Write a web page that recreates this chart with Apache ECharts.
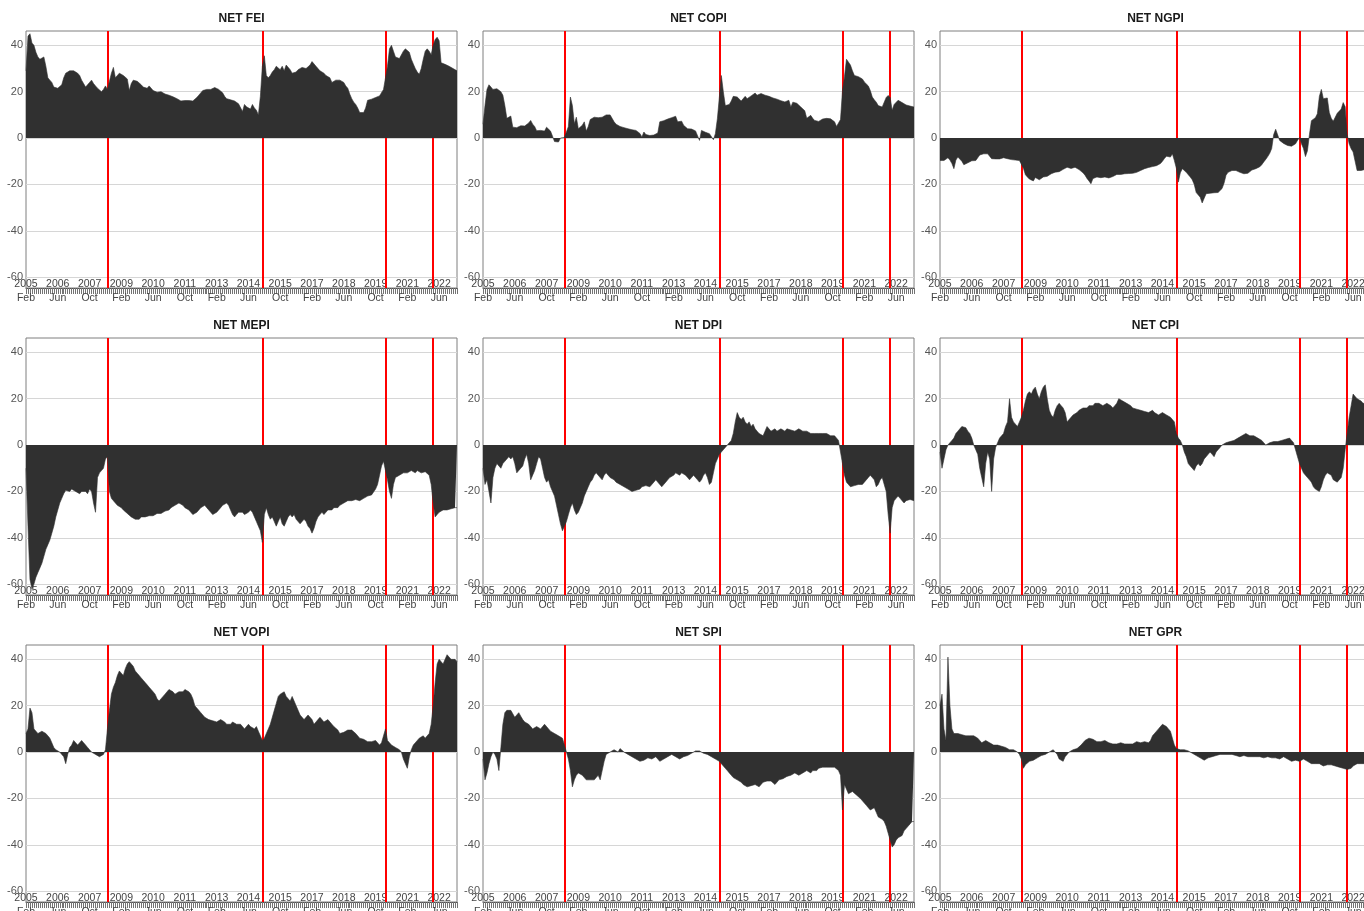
<!DOCTYPE html>
<html>
<head>
<meta charset="utf-8">
<title>Net spillover indices</title>
<script src="https://cdn.jsdelivr.net/npm/echarts@6/dist/echarts.min.js"></script>
<style>
  html, body { margin: 0; padding: 0; background: #ffffff; }
  #chart { width: 1364px; height: 911px; }
</style>
</head>
<body>
<div id="chart"></div>
<script>
// ---- time axis: monthly observations, Feb 2005 onward ----
const startYear = 2005;
const startMonth = 2;
const monthCount = 218;
const monthNames = ['Jan', 'Feb', 'Mar', 'Apr', 'May', 'Jun', 'Jul', 'Aug', 'Sep', 'Oct', 'Nov', 'Dec'];
const months = [];
for (let k = 0; k < monthCount; k++) {
  const m = startMonth - 1 + k;
  months.push(String(startYear + Math.floor(m / 12)) + '-' + String(m % 12 + 1).padStart(2, '0'));
}

// event dates marked by vertical red lines
const eventMonths = ['2008-07', '2015-01', '2020-03', '2022-03'];

// y-axis tick labels
const yTicks = [-60, -40, -20, 0, 20, 40];

const panelTitles = ['NET FEI', 'NET COPI', 'NET NGPI', 'NET MEPI', 'NET DPI', 'NET CPI', 'NET VOPI', 'NET SPI', 'NET GPR'];

// ---- net connectedness series ----
const fei = [
  29, 44, 45, 41, 40, 37, 35, 34, 34, 35,
  31, 26, 25, 24, 22, 21.5, 21.5, 21.5, 23, 26,
  28, 28.5, 29, 28.5, 29, 29.5, 28, 27, 25, 23.5,
  22, 22.5, 24, 25, 23.5, 22.5, 21.5, 21, 20, 21,
  22.5, 21, 21, 28, 30.5, 26, 25.5, 28, 28.5, 27,
  27.5, 25.5, 20.5, 23.5, 25, 25.5, 24.5, 24, 23, 22,
  21.5, 21.5, 22.5, 22, 20.5, 20, 19.8, 20.5, 20, 19.3,
  19, 18.7, 18.5, 18.3, 17.8, 17.3, 17, 16.5, 16, 15.6,
  16.2, 16.3, 16.2, 16.3, 16, 16.4, 17.5, 18.5, 18, 20.5,
  20.8, 21, 20.5, 21, 21.5, 21.8, 21.5, 21, 20.5, 19.5,
  18, 17, 16.8, 16.5, 16.3, 16, 15.5, 14.8, 14, 11.5,
  14.5, 13.5, 13, 12.5, 14.5, 13, 12, 10, 18, 31,
  35.5, 27, 26, 27, 28.5, 29.5, 31, 31.5, 29.5, 31,
  29, 31.5, 31, 29.5, 28, 27.5, 28.5, 29.5, 30, 30.5,
  30, 30, 30.5, 31.5, 33, 33.5, 31, 30, 29, 28.5,
  28, 27, 26.5, 26, 24, 23.5, 25, 25.2, 25, 24.5,
  24, 22.5, 21.5, 19, 17, 15.5, 14.5, 13, 11, 10.8,
  11, 13, 16.3, 16.5, 16.8, 17, 17.5, 17.8, 18.2, 17.8,
  21, 26, 31, 38.5, 40, 37.5, 35, 34.5, 34.3, 35,
  37.5, 38.5, 38.3, 37, 34, 32, 30, 28.5, 27.5, 30,
  34, 37.5, 38.5, 37.5, 36, 40, 42.5, 43.5, 42, 32.5,
  32, 31.8, 31.5, 31, 30.5, 30, 29.3, 29
];

const copi = [
  6, 14, 21, 23, 22, 21, 21.7, 21.3, 20.5, 20,
  18.5, 14, 8.5, 9, 9.5, 4.7, 4.5, 4.5, 4.8, 5.3,
  5, 5.2, 5.8, 6.5, 7.6, 6, 5, 3.2, 2.6, 3.3,
  3, 3, 4.7, 5, 3, 0.8, -1.5, -1.8, -1.7, 0,
  0.4, 0.2, 0.5, 5, 17.7, 14, 6.2, 9, 4, 4.7,
  5.5, 7, 3, 5, 8, 8.8, 9, 9, 8.8, 8.9,
  9, 9.5, 10, 10.5, 10, 8.5, 7, 6, 5.3, 5,
  4.7, 4.5, 4.2, 4, 3.8, 3.6, 3.6, 3.3, 3, 2,
  0.5, 2.6, 1.5, 1, 1.1, 1.2, 1.3, 1.9, 2.2, 7,
  7, 7.5, 7.9, 8.2, 8.4, 8.8, 9, 9.4, 7, 7.2,
  7.3, 5.5, 4.7, 4, 4, 3.9, 3.5, 3.1, 2.6, -1,
  3.3, 3, 2.5, 1.9, 1.9, 1.5, -0.7, 1.9, 8.3, 17.7,
  27, 20, 14, 14, 14.5, 16, 18, 18.7, 17.7, 17.3,
  16, 16.5, 18, 17, 17.7, 18.2, 18.8, 19.4, 18.5, 19.1,
  19.2, 19.4, 18.5, 17.8, 18, 18.2, 17.3, 17, 16.8, 16.3,
  16.1, 16, 15.6, 15.5, 16.3, 13.4, 15.5, 16, 15, 14.5,
  13.4, 12.8, 11.8, 8.5, 7.8, 9.8, 8.5, 7.6, 7.1, 7.2,
  7.6, 8.2, 9, 8.5, 8.3, 8.3, 8, 7, 5, 4.7,
  8, 20.6, 26.5, 34, 33.5, 31.5, 29, 27, 27.8, 26.5,
  26, 25.5, 24.2, 23.8, 22.5, 20.5, 17.7, 16.5, 15.5, 14,
  13.6, 13.4, 15.5, 17.5, 18.4, 17.5, 12, 14.5, 15, 16.3,
  15.8, 15.3, 14.8, 14.3, 14, 13.8, 13.6, 13.4
];

const ngpi = [
  -9.7, -9, -9.7, -9, -8.5, -9.5, -11, -13.2, -9.5, -8.2,
  -8.7, -10, -11.5, -11, -10.7, -10.3, -9.8, -9.7, -9.7, -8.5,
  -7.3, -6.9, -6.8, -6.8, -6.8, -7.5, -8.9, -8.9, -9, -9.3,
  -9, -8.5, -8.5, -8.7, -8.9, -9.1, -9.3, -9.3, -9.5, -9.7,
  -9.7, -10, -13, -15.8, -16.8, -17.7, -18.5, -18.5, -17, -17,
  -18, -17.3, -16.8, -17, -16.5, -16, -15.4, -15, -14.7, -14.7,
  -14.5, -14, -13.5, -13.1, -12.6, -12.8, -13.1, -12.7, -12.6, -13,
  -13.6, -14, -15, -16, -17.4, -18.5, -19.7, -17.5, -16.8, -16.8,
  -16.9, -17.1, -16.9, -16.8, -17, -17.2, -17.6, -16.6, -16, -15.7,
  -15.7, -15.7, -15.5, -15.4, -15.7, -15.3, -15.1, -15.2, -15.3, -14.8,
  -14.5, -14, -13.6, -13.2, -12.9, -12.7, -12.5, -12.3, -12.2, -11.9,
  -11.6, -11, -10, -8.8, -7.8, -7.8, -8.2, -6.8, -9.7, -13,
  -19, -15, -13.2, -14, -14.8, -15.8, -16.8, -18, -20, -23.5,
  -24, -25.5, -28, -26, -24, -24, -23.8, -23.3, -23.6, -24,
  -23.5, -23.3, -21.8, -19.5, -16.1, -14.8, -14, -14, -14, -14,
  -14.4, -14.8, -15.2, -15.4, -15.4, -15.2, -15, -13.8, -13.2, -13.2,
  -12.8, -12.4, -11.5, -10.3, -9.2, -8, -6.6, -4.5, 1.5, 3.8,
  3.3, -1, -1.8, -2.3, -2.7, -3.2, -3.2, -3.5, -3.9, -2.5,
  -1, 0.2, -2.5, -4.5, -8, -5.5, 1.5, 7.5, 8.3, 8.8,
  10.5, 18, 21, 17, 16.8, 17.3, 11, 8.5, 7.3, 9,
  10.7, 11.2, 12.5, 15.3, 13.5, 1.5, -2.5, -4.6, -6, -10,
  -14, -14, -14, -14, -13.5, -13, -13, -13
];

const mepi = [
  -10, -35, -58, -62, -60, -57, -55, -53, -51, -48,
  -45, -43, -41, -38, -35, -31, -28, -25, -23, -21,
  -19.5, -19, -20, -19, -19.5, -20, -19.5, -21, -20, -19.5,
  -20, -21, -19, -20, -25, -29, -14, -12, -11, -10,
  -6, -5, -20, -23, -24, -25, -26, -26.5, -27, -28,
  -28.5, -29.5, -30, -31, -31.5, -32, -31.5, -32, -31, -31.5,
  -31, -31, -30.5, -30, -30.5, -30, -29.5, -30, -29.5, -29,
  -28.5, -28, -28, -27, -26.5, -26, -25.5, -25, -25.5, -26,
  -27, -27.5, -28, -29, -30, -30.5, -29, -28, -27, -26.5,
  -26, -27, -28, -29, -30, -30, -29, -28, -27, -26,
  -25.5, -25, -26, -28, -30, -31, -30, -29, -28.5, -29,
  -30, -29.5, -29, -28, -29, -31, -33, -35, -37, -42,
  -30, -27, -30, -32, -31, -33, -35, -33, -31, -34,
  -35, -33, -31, -30, -31, -30, -32, -33, -34, -33,
  -32, -33, -35, -36, -38, -36, -33, -31, -30, -29,
  -30, -29, -28, -27.5, -28, -27, -26.5, -27, -26, -25.5,
  -25, -24.5, -24, -24.5, -24, -24, -23.5, -24, -24, -23.5,
  -23, -22.5, -22, -22, -21.5, -21, -19, -17, -13, -9,
  -7, -11, -15, -20, -23, -17, -14, -13.5, -13, -12.5,
  -12, -11.5, -12, -11.5, -11, -11.5, -12, -11, -11.5, -12,
  -12, -11.5, -12, -13, -17, -25, -31, -30, -29, -28.5,
  -28, -27.5, -28, -27.5, -27.5, -27, -27, -27
];

const dpi = [
  -10, -17, -15, -20, -25, -14, -10, -8, -9, -10,
  -8, -7, -6, -5, -6, -5, -8, -12, -11, -10,
  -9, -6, -4, -8, -15, -13, -11, -8, -5, -6,
  -10, -14, -16, -15, -18, -20, -22, -26, -30, -34,
  -37, -35, -33, -30, -27, -25, -28, -30, -29, -27,
  -25, -22, -20, -18, -16, -15, -13, -12, -13, -14,
  -15, -13, -12, -13, -14, -14, -15, -16, -16.5, -17,
  -17, -18, -18.5, -19, -19.5, -20, -20, -19.5, -20, -19,
  -18, -18, -17.5, -17, -18, -17, -16, -15, -15.5, -17,
  -18, -17, -16, -15, -14, -14.5, -13, -12, -12.5, -13,
  -12, -12.5, -13, -14, -15, -14, -13, -14, -15, -16,
  -15, -13, -12, -14, -17, -16, -12, -8, -6, -4,
  -3, -2, -1, 0, 0.5, 2, 5, 10, 14, 12,
  11, 12, 10, 9, 10, 8, 9, 7, 6, 5,
  5, 4, 6, 8, 7, 6, 6.5, 7, 6, 6.5,
  7, 6.5, 6, 7, 7.5, 6.5, 7, 6, 6.5, 7,
  6.5, 6, 6.5, 6, 5.5, 5, 5.5, 5, 4.5, 5,
  4.5, 5, 5.5, 5, 4.5, 4, 3.5, 4, 4, 2,
  -3, -8, -13, -16, -17, -18, -18.5, -17.5, -18, -17,
  -16.5, -17, -16, -15.5, -14, -13, -14, -15, -18, -17,
  -15, -14, -13.5, -20, -30, -38, -27, -24, -23, -22,
  -23, -24, -25, -24, -24, -23.5, -24, -24
];

const cpi = [
  -3, -10, -6, -2, 0, 1, 2, 3, 5, 6,
  7, 8, 8, 7.5, 6, 5, 3, 0, -2, -4,
  -10, -14, -18, -8, -3, -6, -20, -6, -1, 1,
  3, 4, 5, 8, 10, 20, 12, 10, 9, 8,
  10, 12, 15, 19, 22, 23, 22, 24, 25, 22,
  20, 23, 25, 26, 20, 15, 13, 12, 15, 17,
  18, 17, 16, 14, 10, 11, 12, 13, 13, 14,
  15, 15.5, 16, 16.5, 16, 17, 17.5, 17, 18, 17.5,
  18, 17.5, 17, 17.5, 18, 18, 17, 16, 17, 18,
  20, 19.5, 19, 18.5, 18, 18, 17, 16, 15.5, 15.5,
  15, 15, 15, 14.5, 14.5, 14, 14.5, 15, 14, 13.5,
  13, 13.5, 14, 13.5, 13, 13, 12, 11, 10, 5,
  3, 2, 0, -3, -5, -8, -9, -10, -11, -9,
  -8, -9, -8, -6, -5, -4, -3, -4, -5, -3,
  -2, -1, 0, 0.5, 1, 1, 1.5, 2, 2, 2.5,
  3, 3.5, 4, 4.5, 5, 4.5, 4, 4, 4, 3.5,
  3, 2.5, 2, 1, 0, 0.5, 1, 1, 1.5, 1.5,
  1.5, 2, 2, 2, 2.5, 3, 3, 2, 1, -2,
  -5, -8, -10, -12, -13, -14, -15, -16, -18, -19,
  -19.5, -20, -18, -15, -13, -12, -12, -13, -15, -15.5,
  -16, -16, -14, -10, -2, 5, 12, 17, 22, 21,
  20, 20, 19, 18, 18, 18, 17.5, 17.5
];

const vopi = [
  8, 10, 19, 17, 10, 9, 8, 8.5, 9, 9,
  8, 7, 6, 4, 2, 1, 0.5, 0, -1, -2,
  -5, -1, 2, 3, 5, 4, 3, 4, 5, 4,
  3, 2, 1, 0, 0, -1, -1, -2, -1.5, -1,
  1, 10, 18, 25, 28, 30, 33, 35, 34, 33,
  36, 38, 39, 39, 37, 35, 34, 33, 32, 31,
  30, 29, 28, 27, 26, 25, 23, 22, 23, 24,
  25, 26, 27, 26.5, 26, 25, 25.5, 26, 26.5, 26,
  27, 26.5, 26, 25, 23, 20, 19, 18, 17, 16,
  15, 14.5, 14, 14, 13.5, 13, 13, 13.5, 14, 13.5,
  13, 12, 12.5, 12, 13, 13, 12, 11.5, 12, 11,
  10, 11, 12, 11, 10.5, 10, 11, 9, 7, 5,
  6, 8, 10, 12, 15, 18, 21, 24, 25, 25.5,
  26, 24, 23, 22, 24, 22, 20, 18, 16, 15,
  14, 15, 16, 16, 14, 12, 13, 14, 15, 14,
  13, 13.5, 14, 14, 12, 11, 11, 9.5, 8, 8.5,
  8.5, 9, 9.5, 10, 9.5, 9, 8, 7.5, 6, 5.5,
  5.5, 5, 4.5, 4, 4.5, 5, 5, 4, 3, 4,
  7, 10, 5, 4, 3, 2.5, 2, 1.5, 1, 0,
  -3, -5, -7, -2, 1, 3, 4, 5, 6, 6.5,
  7, 6, 7, 8, 12, 20, 30, 38, 40, 39,
  38, 40, 42, 41, 40, 40, 40, 39
];

const spi = [
  -3, -12, -9, -5, -2, 0, -1, -3, -8, 2,
  12, 17, 18, 17.5, 18, 16.5, 15, 16, 17, 15.5,
  14, 13, 12.5, 12, 11, 10, 10.5, 11, 10.5, 10,
  11, 12, 11, 10, 9, 8.5, 8, 7.5, 7, 6.5,
  6, 3, 0, -3, -8, -15, -12, -10, -9, -9.5,
  -10, -11, -12, -12.5, -12, -11.5, -12, -11, -10, -12,
  -12, -4, -1, -0.5, 0, 0, 1, 1, 0, 1.5,
  2, 0, -0.5, -1, -1.5, -2, -2.5, -3, -3.5, -4,
  -4, -3.5, -3, -2.5, -3, -3, -2.5, -2, -3, -4,
  -3.5, -3, -2.5, -2, -1.5, -1, -1.5, -2, -2.5, -3,
  -2.5, -2, -2, -1.5, -1, -0.5, 0, 0.5, 1, 0.5,
  0, -0.5, -1, -1, -1.5, -2, -2.5, -3, -3.5, -4,
  -5, -6, -7, -8, -9, -10, -11, -11.5, -12, -12.5,
  -13, -14, -14.5, -15, -15, -14.5, -15, -14, -14.5, -15,
  -14, -13, -13.5, -12.5, -12, -12.5, -13, -14, -13, -12,
  -12, -11.5, -11, -10.5, -10, -10, -9.5, -9, -9.5, -10,
  -10, -9, -8.5, -8, -8.5, -9, -8, -7.5, -8, -7,
  -7, -6.5, -6, -6.5, -7, -6.5, -6, -6.5, -7, -8,
  -10, -25, -14, -16, -18, -18, -17, -17.5, -18.5, -19,
  -20, -21, -22, -23, -24, -25, -25.5, -24, -26, -28,
  -28, -29, -30, -32, -35, -38, -41, -40, -38, -37,
  -37, -36, -34, -33, -32, -31, -30, -30
];

const gpr = [
  20, 25, 10, 5, 41, 20, 10, 8, 7.5, 8,
  8, 7.5, 7, 7, 7, 7, 7, 7, 6.5, 6,
  5, 4, 4.5, 5, 4.5, 4, 3.5, 3, 3, 3,
  3, 2.5, 2.5, 2, 1.5, 1, 1, 1, 1, 0,
  -1, -3, -7, -5.5, -5, -4, -3.5, -3.5, -3, -2.5,
  -2, -1.5, -1.5, -1, -0.5, 0, 0.5, 1, 1, -1,
  -3, -3.5, -4, -2, -1, 0, 0.5, 1, 1, 1.5,
  2, 3, 4, 5, 5.5, 6, 6, 5.5, 5, 4.5,
  4, 4.5, 5, 5, 4.5, 4, 4, 3.5, 4, 3.5,
  3.5, 4, 4, 3.5, 3, 3.5, 4, 3.5, 4, 4.5,
  4.5, 4, 4, 4.5, 4, 4, 5, 7, 8, 9,
  10, 11, 12, 12, 11, 10, 9, 6, 3, 1.5,
  1, 1, 1.5, 1, 1, 0.5, 0, -0.5, -1, -1.5,
  -2, -2.5, -3, -3.5, -3, -2.5, -2, -2, -1.5, -1.5,
  -1.5, -1, -1.5, -1, -1, -1, -1.5, -1, -1.5, -1.5,
  -1.5, -2, -1.5, -1.5, -2, -2, -1.5, -2, -2, -2,
  -2.5, -2, -2, -2.5, -2, -2, -2.5, -2.5, -2, -2.5,
  -2.5, -3, -2.5, -2, -2.5, -3, -3.5, -4, -4, -3.5,
  -4, -4, -3.5, -3, -3.5, -4, -4.5, -5, -5, -5,
  -5.5, -5, -5.5, -6, -6, -5.5, -5, -5.5, -6, -6,
  -6, -6.5, -6.5, -7, -7, -7.5, -8, -7, -6, -5.5,
  -5, -5, -5, -5, -5, -5, -5, -5
];

const panelSeries = [fei, copi, ngpi, mepi, dpi, cpi, vopi, spi, gpr];

// ---- layout of the 3 x 3 panel grid ----
const colLeft = [26, 483, 940];
const rowTop = [31, 338, 645];
const plotWidth = 431;
const plotHeight = 257;
const fontFamily = '"Liberation Sans", Arial, Helvetica, sans-serif';

const grids = [], xAxes = [], yAxes = [], series = [], graphics = [];

panelSeries.forEach((values, k) => {
  const left = colLeft[k % 3];
  const top = rowTop[Math.floor(k / 3)];

  grids.push({
    left: left, top: top, width: plotWidth, height: plotHeight,
    outerBoundsMode: 'none', containLabel: false,
    show: true, borderColor: '#7f7f7f', borderWidth: 1, backgroundColor: 'transparent'
  });

  // year row sitting on the axis line, with dense monthly ticks below it
  xAxes.push({
    gridIndex: k, type: 'category', data: months, boundaryGap: false, position: 'bottom',
    axisLine: { show: true, onZero: false, lineStyle: { color: '#555555', width: 1 } },
    axisTick: { show: true, interval: 0, length: 6, lineStyle: { color: '#737373', width: 1 } },
    axisLabel: {
      inside: true, interval: 15, margin: -2,
      fontSize: 10.5, color: '#444444', fontFamily: fontFamily,
      formatter: v => v.slice(0, 4)
    },
    splitLine: { show: false }
  });
  // month row below the ticks
  xAxes.push({
    gridIndex: k, type: 'category', data: months, boundaryGap: false, position: 'bottom',
    axisLine: { show: false, onZero: false }, axisTick: { show: false },
    axisLabel: {
      interval: 15, margin: 5,
      fontSize: 10.5, color: '#444444', fontFamily: fontFamily,
      formatter: v => monthNames[Number(v.slice(5)) - 1]
    },
    splitLine: { show: false }
  });

  yAxes.push({
    gridIndex: k, type: 'value', min: -64.7, max: 46.2,
    axisLine: { show: false },
    axisTick: { show: false, customValues: yTicks },
    axisLabel: { customValues: yTicks, margin: 3, fontSize: 11, color: '#555555', fontFamily: fontFamily },
    splitLine: { show: true, lineStyle: { color: '#d6d6d6', width: 1 } }
  });

  // event markers, kept beneath the filled area
  series.push({
    type: 'line', xAxisIndex: 2 * k, yAxisIndex: k, data: [], z: 1, silent: true,
    markLine: {
      z: 1, silent: true, symbol: 'none', animation: false,
      label: { show: false },
      lineStyle: { color: '#ff0000', width: 2, type: 'solid' },
      data: eventMonths.map(m => ({ xAxis: m }))
    }
  });

  series.push({
    name: panelTitles[k], type: 'line', xAxisIndex: 2 * k, yAxisIndex: k,
    data: values, showSymbol: false, symbol: 'none', silent: true, z: 3,
    lineStyle: { color: '#303030', width: 0.6 },
    areaStyle: { color: '#303030', opacity: 1 }
  });

  graphics.push({
    type: 'text', x: left + plotWidth / 2, y: top - 12, silent: true,
    style: {
      text: panelTitles[k], align: 'center', verticalAlign: 'middle',
      font: 'bold 12px ' + fontFamily, fill: '#1a1a1a'
    }
  });
});

const chart = echarts.init(document.getElementById('chart'), null, { renderer: 'canvas' });
chart.setOption({
  animation: false,
  backgroundColor: '#ffffff',
  grid: grids,
  xAxis: xAxes,
  yAxis: yAxes,
  series: series,
  graphic: graphics
});
</script>
</body>
</html>
